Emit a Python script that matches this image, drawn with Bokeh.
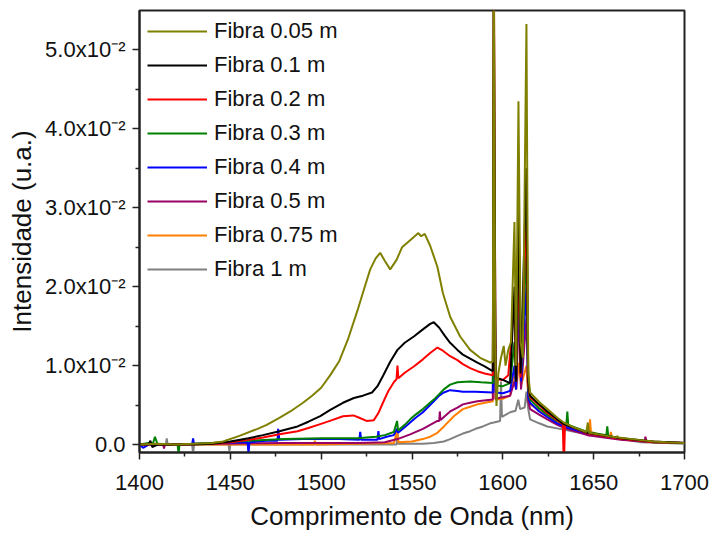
from bokeh.plotting import figure
from bokeh.models import Range1d, FixedTicker, Legend, LegendItem
from bokeh.embed import file_html
from bokeh.resources import INLINE

# ---------------- data ----------------
x_ticks = [1400, 1450, 1500, 1550, 1600, 1650, 1700]
x_minor = [1425, 1475, 1525, 1575, 1625, 1675]
y_ticks = [0.0, 0.01, 0.02, 0.03, 0.04, 0.05]
y_minor = [0.005, 0.015, 0.025, 0.035, 0.045]
y_tick_labels = ["0.0", "1.0x10\u207b\u00b2", "2.0x10\u207b\u00b2", "3.0x10\u207b\u00b2",
                 "4.0x10\u207b\u00b2", "5.0x10\u207b\u00b2"]

labels = ["Fibra 0.05 m", "Fibra 0.1 m", "Fibra 0.2 m", "Fibra 0.3 m",
          "Fibra 0.4 m", "Fibra 0.5 m", "Fibra 0.75 m", "Fibra 1 m"]
colors = ["#808000", "#000000", "#FF0000", "#008000",
          "#0000FF", "#990066", "#FF8000", "#808080"]

x_f005 = [1400, 1410, 1420, 1430, 1440, 1446, 1455, 1465, 1470, 1477, 1483, 1490, 1495, 1500, 1505,
          1510, 1515, 1520, 1524, 1527, 1530, 1532.5, 1535, 1538, 1541.5, 1544.5, 1549, 1553.5, 1555, 1557,
          1560, 1564, 1567, 1571, 1576.5, 1582, 1587.5, 1593, 1594.5, 1595, 1595.8, 1596.5, 1597.5, 1599, 1600.5,
          1601.5, 1603, 1604.5, 1606.4, 1607.3, 1608.6, 1609.8, 1611, 1613, 1614, 1615, 1620, 1624.5, 1630, 1633.5,
          1640, 1646, 1646.8, 1647.5, 1655, 1662.5, 1663, 1663.5, 1675, 1683, 1690, 1700]
y_f005 = [0.0, 0.0001, 0.0, 0.0001, 0.0002, 0.0004, 0.0011, 0.0020, 0.0025, 0.0034, 0.0042, 0.0053, 0.0062, 0.0072, 0.0088,
          0.0106, 0.0135, 0.0170, 0.0200, 0.0222, 0.0236, 0.0243, 0.0233, 0.0222, 0.0234, 0.0250, 0.0259, 0.0268, 0.0264, 0.0267,
          0.0252, 0.0225, 0.0192, 0.0162, 0.0137, 0.0120, 0.0110, 0.0104, 0.0105, 0.0650, 0.0120, 0.0049, 0.0090, 0.0110, 0.0125,
          0.0100, 0.0120, 0.0130, 0.0282, 0.0100, 0.0435, 0.0130, 0.0110, 0.0533, 0.0090, 0.0066, 0.0054, 0.0045, 0.0034, 0.0028,
          0.0021, 0.0016, 0.0028, 0.0015, 0.0012, 0.0009, 0.0011, 0.0009, 0.0006, 0.0004, 0.0003, 0.0002]

x_f01 = [1400, 1405, 1406, 1407, 1410, 1420, 1430, 1440, 1450, 1460, 1468, 1477, 1487, 1493, 1499.5,
         1505, 1512, 1518, 1523, 1528, 1531, 1534, 1538, 1542, 1546, 1551, 1556, 1560, 1562, 1565,
         1568, 1571, 1575, 1578, 1582, 1586, 1590, 1593, 1594.5, 1595, 1596, 1600, 1604, 1606.4, 1607.3,
         1608.6, 1609.8, 1613, 1614, 1615, 1620, 1624.5, 1633.5, 1646.5, 1665, 1683, 1700]
y_f01 = [0.0, 0.0, 0.0005, -0.0003, 0.0, 0.0, 0.0, 0.0001, 0.0004, 0.0008, 0.0012, 0.0017, 0.0023, 0.0029, 0.0036,
         0.0044, 0.0053, 0.0059, 0.0062, 0.0066, 0.0074, 0.0087, 0.0105, 0.0120, 0.0129, 0.0137, 0.0146, 0.0153, 0.0155, 0.0148,
         0.0138, 0.0129, 0.0120, 0.0114, 0.0109, 0.0104, 0.0099, 0.0095, 0.0093, 0.0600, 0.0085, 0.0082, 0.0078, 0.0200, 0.0080,
         0.0300, 0.0090, 0.0350, 0.0080, 0.0062, 0.0051, 0.0042, 0.0026, 0.0015, 0.0008, 0.0004, 0.0002]

x_f02 = [1400, 1420, 1440, 1450, 1460, 1468, 1477, 1487, 1493, 1499.5, 1506, 1512, 1517.7, 1521, 1525,
         1529, 1531.5, 1534, 1537, 1540, 1541.5, 1542, 1542.5, 1546, 1551, 1556, 1560, 1564, 1567, 1571,
         1575, 1578, 1582, 1586, 1590, 1594.5, 1595, 1596, 1600, 1603, 1606.4, 1607.3, 1608.6, 1609.8, 1613,
         1614, 1615, 1620, 1624.5, 1633, 1633.6, 1634.2, 1646.5, 1665, 1683, 1700]
y_f02 = [0.0, 0.0, 0.0001, 0.0003, 0.0006, 0.0009, 0.0013, 0.0017, 0.0021, 0.0026, 0.0031, 0.0036, 0.0037, 0.0034, 0.0030,
         0.0031, 0.0040, 0.0053, 0.0068, 0.0079, 0.0083, 0.0100, 0.0084, 0.0091, 0.0099, 0.0108, 0.0116, 0.0123, 0.0119, 0.0112,
         0.0107, 0.0102, 0.0097, 0.0093, 0.0090, 0.0088, 0.0650, 0.0083, 0.0082, 0.0088, 0.0180, 0.0080, 0.0250, 0.0085, 0.0300,
         0.0075, 0.0060, 0.0050, 0.0040, 0.0026, -0.0030, 0.0026, 0.0014, 0.0007, 0.0003, 0.0002]

x_f03 = [1400, 1405, 1407.5, 1408.5, 1410, 1421, 1421.5, 1422, 1440, 1460, 1480, 1500, 1520, 1530, 1535,
         1540, 1541.8, 1542.3, 1546, 1549, 1552, 1556, 1559, 1562, 1565, 1567.5, 1571, 1575, 1582, 1588,
         1594.5, 1595, 1596, 1600, 1604, 1606.4, 1607.3, 1608.9, 1610, 1613, 1614, 1615, 1620, 1624.5, 1630,
         1635, 1635.5, 1636, 1646.5, 1657, 1657.5, 1658, 1665, 1683, 1700]
y_f03 = [0.0, 0.0002, 0.0002, 0.0010, 0.0, 0.0, -0.0012, 0.0, 0.0002, 0.0005, 0.0007, 0.0008, 0.0008, 0.0010, 0.0012,
         0.0016, 0.0030, 0.0018, 0.0025, 0.0032, 0.0038, 0.0045, 0.0051, 0.0057, 0.0064, 0.0070, 0.0076, 0.0079, 0.0080, 0.0079,
         0.0078, 0.0450, 0.0075, 0.0074, 0.0078, 0.0130, 0.0080, 0.0263, 0.0090, 0.0250, 0.0070, 0.0057, 0.0046, 0.0038, 0.0030,
         0.0026, 0.0042, 0.0025, 0.0016, 0.0012, 0.0023, 0.0011, 0.0008, 0.0003, 0.0002]

x_f04 = [1400, 1402, 1405, 1415, 1429, 1429.5, 1430, 1440, 1459.5, 1460, 1460.5, 1470, 1476, 1476.3, 1477,
         1490, 1500, 1510, 1521, 1521.5, 1522, 1531, 1531.5, 1532, 1536, 1540, 1541.8, 1542.3, 1546, 1549,
         1552, 1556, 1559, 1562, 1565, 1567.5, 1571, 1575, 1578, 1585, 1594.5, 1595, 1596, 1600, 1604,
         1606.4, 1607.3, 1609, 1610, 1613, 1614, 1615, 1620, 1624.5, 1630, 1635, 1646.5, 1665, 1683, 1700]
y_f04 = [0.0, -0.0004, 0.0, 0.0, 0.0001, 0.0008, 0.0001, 0.0002, 0.0003, -0.0012, 0.0003, 0.0005, 0.0005, 0.0020, 0.0006,
         0.0007, 0.0007, 0.0007, 0.0006, 0.0016, 0.0006, 0.0006, 0.0017, 0.0007, 0.0010, 0.0012, 0.0020, 0.0015, 0.0022, 0.0028,
         0.0034, 0.0041, 0.0048, 0.0055, 0.0062, 0.0066, 0.0069, 0.0068, 0.0067, 0.0067, 0.0066, 0.0350, 0.0066, 0.0065, 0.0068,
         0.0100, 0.0070, 0.0225, 0.0080, 0.0200, 0.0060, 0.0053, 0.0042, 0.0035, 0.0027, 0.0022, 0.0014, 0.0007, 0.0003, 0.0002]

x_f05 = [1400, 1413, 1413.5, 1414, 1440, 1480, 1520, 1535, 1542, 1549, 1556, 1560, 1564, 1565, 1565.3,
         1565.7, 1568, 1571, 1575, 1578, 1582, 1586, 1594.5, 1595, 1596, 1600, 1604, 1606.4, 1607.3, 1609,
         1610, 1613, 1614, 1615, 1620, 1624.5, 1630, 1635, 1646.5, 1665, 1678, 1678.5, 1679, 1690, 1700]
y_f05 = [0.0, 0.0, -0.0005, 0.0, 0.0001, 0.0002, 0.0002, 0.0003, 0.0007, 0.0013, 0.0020, 0.0025, 0.0030, 0.0030, 0.0042,
         0.0031, 0.0036, 0.0042, 0.0047, 0.0051, 0.0053, 0.0055, 0.0057, 0.0250, 0.0058, 0.0060, 0.0062, 0.0080, 0.0070, 0.0175,
         0.0070, 0.0160, 0.0055, 0.0045, 0.0038, 0.0032, 0.0025, 0.0020, 0.0012, 0.0006, 0.0004, 0.0010, 0.0004, 0.0003, 0.0002]

x_f075 = [1400, 1440, 1496, 1496.5, 1497, 1520, 1540, 1541.8, 1542.5, 1550, 1556, 1560, 1564, 1568, 1573,
          1578, 1582, 1586, 1594.5, 1595, 1596, 1600, 1604, 1606.4, 1607.3, 1609, 1610, 1613, 1614, 1615,
          1620, 1624.5, 1630, 1635, 1640, 1647.5, 1648, 1648.5, 1655, 1659, 1659.5, 1660, 1665, 1683, 1700]
y_f075 = [0.0, 0.0, 0.0, 0.0005, 0.0, 0.0001, 0.0002, 0.0017, 0.0003, 0.0004, 0.0007, 0.0010, 0.0015, 0.0024, 0.0036,
          0.0045, 0.0048, 0.0051, 0.0055, 0.0200, 0.0057, 0.0058, 0.0062, 0.0090, 0.0070, 0.0104, 0.0075, 0.0100, 0.0060, 0.0051,
          0.0044, 0.0037, 0.0029, 0.0023, 0.0019, 0.0015, 0.0032, 0.0016, 0.0011, 0.0010, 0.0016, 0.0009, 0.0007, 0.0003, 0.0002]

x_f1 = [1400, 1414.5, 1415, 1415.5, 1429, 1429.5, 1430, 1449, 1449.5, 1450, 1470, 1500, 1530, 1541.5, 1542,
        1542.5, 1550, 1556, 1562, 1567.5, 1571, 1575, 1578, 1582, 1585, 1589, 1593, 1595, 1598.5, 1599,
        1599.5, 1604, 1607, 1608.5, 1609.5, 1612, 1613, 1614, 1615, 1620, 1624.5, 1633.5, 1640, 1650, 1660,
        1676, 1690, 1700]
y_f1 = [0.0, 0.0, 0.0008, 0.0, 0.0, -0.0012, 0.0, 0.0, -0.0008, 0.0, 0.0, 0.0, 0.0, 0.0, 0.0015,
        0.0001, 0.0001, 0.0001, 0.0002, 0.0004, 0.0007, 0.0011, 0.0014, 0.0017, 0.0020, 0.0023, 0.0027, 0.0028, 0.0030, 0.0080,
        0.0035, 0.0041, 0.0043, 0.0057, 0.0045, 0.0047, 0.0067, 0.0045, 0.0032, 0.0027, 0.0023, 0.0019, 0.0016, 0.0013, 0.0009,
        0.0003, 0.0002, 0.0001]

xs = [x_f005, x_f01, x_f02, x_f03, x_f04, x_f05, x_f075, x_f1]
ys = [y_f005, y_f01, y_f02, y_f03, y_f04, y_f05, y_f075, y_f1]

FONT = "Liberation Sans"
TEXT = "#111111"

p = figure(width=710, height=533, output_backend="svg", toolbar_location=None,
           x_range=Range1d(1400, 1700), y_range=Range1d(-0.001, 0.055),
           min_border_left=139, min_border_right=26, min_border_top=10, min_border_bottom=80)

p.xgrid.visible = False
p.ygrid.visible = False
p.outline_line_color = "#222222"
p.outline_line_width = 2
p.background_fill_color = "white"
p.border_fill_color = "white"

renderers = [None] * len(labels)
for i in reversed(range(len(labels))):
    renderers[i] = p.line(xs[i], ys[i], line_color=colors[i], line_width=2)

items = [LegendItem(label=labels[i], renderers=[renderers[i]]) for i in range(len(labels))]
legend = Legend(items=items, location="top_left")
legend.border_line_color = None
legend.background_fill_alpha = 0
legend.label_text_font = FONT
legend.label_text_font_size = "22px"
legend.label_text_color = TEXT
legend.glyph_width = 60
legend.glyph_height = 20
legend.label_standoff = 7
legend.spacing = 8
legend.padding = 0
legend.margin = 8
legend.label_height = 20
p.add_layout(legend)

p.xaxis.ticker = FixedTicker(ticks=x_ticks, minor_ticks=x_minor)
p.yaxis.ticker = FixedTicker(ticks=y_ticks, minor_ticks=y_minor)
p.yaxis.major_label_overrides = {t: lab for t, lab in zip(y_ticks, y_tick_labels)}

p.xaxis.axis_label = "Comprimento de Onda (nm)"
p.yaxis.axis_label = "Intensidade (u.a.)"
for ax in (p.xaxis, p.yaxis):
    ax.axis_label_text_font = FONT
    ax.axis_label_text_font_style = "normal"
    ax.axis_label_text_font_size = "26px"
    ax.axis_label_text_color = TEXT
    ax.major_label_text_font = FONT
    ax.major_label_text_font_size = "22px"
    ax.major_label_text_color = TEXT
    ax.axis_line_color = "#222222"
    ax.axis_line_width = 2
    ax.major_tick_line_color = "#222222"
    ax.major_tick_line_width = 1.5
    ax.minor_tick_line_color = "#222222"
    ax.minor_tick_line_width = 1.5
    ax.major_tick_in = 0
    ax.major_tick_out = 7
    ax.minor_tick_in = 0
    ax.minor_tick_out = 4
p.xaxis.major_label_standoff = 15
p.yaxis.major_label_standoff = 7
p.xaxis.axis_label_standoff = 8
p.yaxis.axis_label_standoff = 5

open("out.html", "w").write(file_html(p, INLINE))
